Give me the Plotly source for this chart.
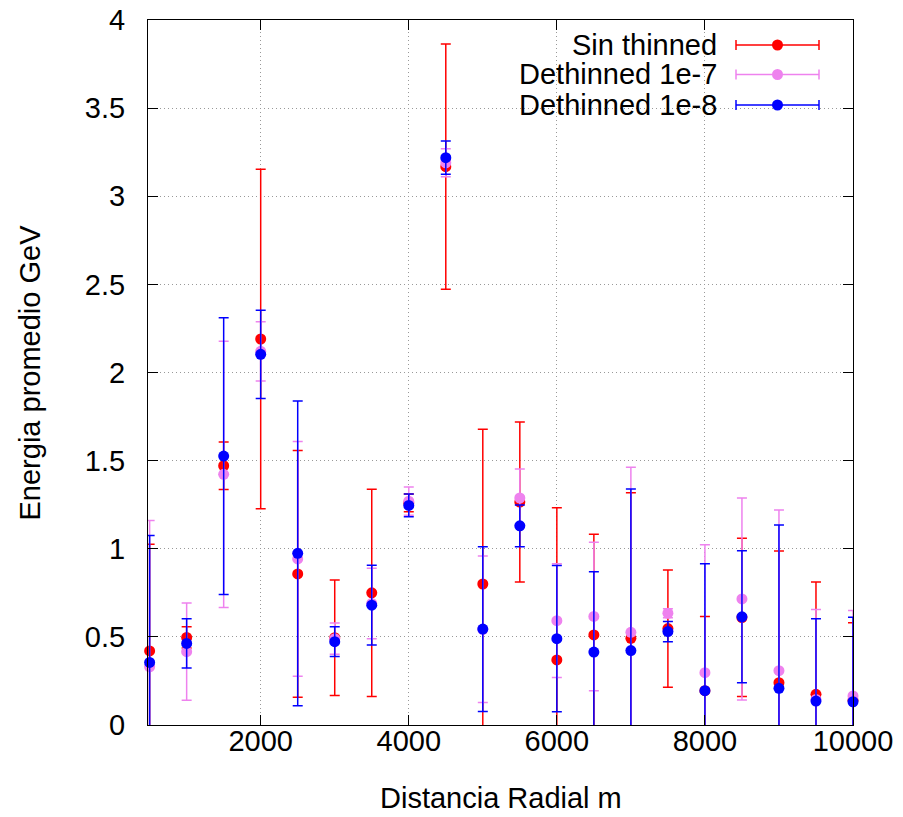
import plotly.graph_objects as go

# Radial distance bins (m)
distancia = [500, 1000, 1500, 2000, 2500, 3000, 3500, 4000, 4500, 5000,
             5500, 6000, 6500, 7000, 7500, 8000, 8500, 9000, 9500, 10000]

# Mean energy (GeV) and its error for each simulation
sin_thinned = [0.42, 0.497, 1.471, 2.19, 0.857, 0.495, 0.75, 1.26, 3.168, 0.80,
               1.265, 0.369, 0.511, 0.492, 0.547, 0.195, 0.61, 0.24, 0.174, 0.14]
sin_thinned_err = [0.605, 0.06, 0.135, 0.963, 0.70, 0.327, 0.588, 0.05, 0.696, 0.878,
                   0.454, 0.864, 0.571, 0.826, 0.333, 0.42, 0.449, 0.747, 0.637, 0.44]

deth_1e7 = [0.33, 0.416, 1.422, 2.12, 0.942, 0.49, 0.69, 1.27, 3.19, 0.543,
            1.288, 0.592, 0.616, 0.526, 0.634, 0.297, 0.715, 0.308, 0.145, 0.165]
deth_1e7_err = [0.83, 0.276, 0.755, 0.168, 0.666, 0.089, 0.2, 0.08, 0.08, 0.416,
                0.164, 0.323, 0.421, 0.936, 0.026, 0.726, 0.573, 0.912, 0.51, 0.484]

deth_1e8 = [0.355, 0.463, 1.526, 2.103, 0.974, 0.473, 0.68, 1.246, 3.219, 0.544,
            1.13, 0.49, 0.414, 0.422, 0.53, 0.195, 0.614, 0.208, 0.136, 0.132]
deth_1e8_err = [0.72, 0.14, 0.785, 0.25, 0.865, 0.085, 0.226, 0.065, 0.094, 0.468,
                0.118, 0.415, 0.456, 0.917, 0.057, 0.72, 0.374, 0.927, 0.467, 0.479]

series_names = ["Sin thinned", "Dethinned 1e-7", "Dethinned 1e-8"]
series_colors = ["#ff0000", "#ee82ee", "#0000ff"]

x_ticks = [2000, 4000, 6000, 8000, 10000]
x_tick_text = ["2000", "4000", "6000", "8000", "10000"]
y_ticks = [0, 0.5, 1, 1.5, 2, 2.5, 3, 3.5, 4]
y_tick_text = ["0", "0.5", "1", "1.5", "2", "2.5", "3", "3.5", "4"]

FONT = "Liberation Sans, Arial, sans-serif"
FS = 29

fig = go.Figure()

series = [(sin_thinned, sin_thinned_err), (deth_1e7, deth_1e7_err), (deth_1e8, deth_1e8_err)]
for (vals, errs), name, color in zip(series, series_names, series_colors):
    # error bars, clipped to the plot frame
    fig.add_trace(go.Scatter(
        x=distancia, y=vals, mode="markers", name=name, showlegend=False,
        marker=dict(size=1, color="rgba(0,0,0,0)"),
        error_y=dict(type="data", array=errs, symmetric=True, color=color,
                     thickness=1.5, width=5),
        cliponaxis=True, hoverinfo="skip",
    ))
    # points drawn on top of their own bars
    fig.add_trace(go.Scatter(
        x=distancia, y=vals, mode="markers", name=name, showlegend=False,
        marker=dict(size=11, color=color),
        cliponaxis=False,
    ))

# plot frame in pixels: x 148..853, y 20..725
def px_x(p):
    return (p - 148) / 705.0

def px_y(p):
    return (725 - p) / 705.0

shapes = []
annotations = []

# key box
shapes.append(dict(type="rect", xref="paper", yref="paper", layer="between",
                   x0=px_x(465), x1=px_x(836), y0=px_y(117), y1=px_y(21),
                   fillcolor="white", line=dict(width=0)))

row_y = [45, 74.5, 105]
for name, color, ry in zip(series_names, series_colors, row_y):
    yc = px_y(ry)
    annotations.append(dict(text=name, xref="paper", yref="paper",
                            x=px_x(719), y=yc, xanchor="right", yanchor="middle",
                            showarrow=False, font=dict(family=FONT, size=FS, color="black")))
    shapes.append(dict(type="line", xref="paper", yref="paper", layer="above",
                       x0=px_x(736), x1=px_x(819), y0=yc, y1=yc,
                       line=dict(color=color, width=1.5)))
    for cx in (736, 819):
        shapes.append(dict(type="line", xref="paper", yref="paper", layer="above",
                           x0=px_x(cx), x1=px_x(cx), y0=px_y(ry - 5), y1=px_y(ry + 5),
                           line=dict(color=color, width=1.5)))
    shapes.append(dict(type="circle", xref="paper", yref="paper", layer="above",
                       xsizemode="pixel", ysizemode="pixel",
                       xanchor=px_x(777.5), yanchor=yc,
                       x0=-5.5, x1=5.5, y0=-5.5, y1=5.5,
                       fillcolor=color, line=dict(width=0)))

# axis titles
annotations.append(dict(text="Distancia Radial m", xref="paper", yref="paper",
                        x=0.5, y=px_y(798), xanchor="center", yanchor="middle",
                        showarrow=False, font=dict(family=FONT, size=FS, color="black")))
annotations.append(dict(text="Energia promedio GeV", xref="paper", yref="paper",
                        x=px_x(29), y=0.5, xanchor="center", yanchor="middle",
                        textangle=-90, showarrow=False,
                        font=dict(family=FONT, size=FS, color="black")))

axis_common = dict(
    showline=True, linecolor="black", linewidth=1, mirror="ticks",
    ticks="inside", ticklen=10, tickwidth=1, tickcolor="black",
    showgrid=True, gridcolor="#999999", griddash="1px,3px", gridwidth=1,
    zeroline=False, automargin=False,
    tickfont=dict(family=FONT, size=FS, color="black"),
)

fig.update_layout(
    width=903, height=817,
    margin=dict(l=148, r=50, t=20, b=92),
    paper_bgcolor="white", plot_bgcolor="white",
    showlegend=False,
    xaxis=dict(range=[478, 10000], tickvals=x_ticks, ticktext=x_tick_text,
               ticklabelstandoff=-10, **axis_common),
    yaxis=dict(range=[0, 4], tickvals=y_ticks, ticktext=y_tick_text,
               ticklabelstandoff=16, **axis_common),
    shapes=shapes, annotations=annotations,
    font=dict(family=FONT, size=FS),
)

fig.write_html("out.html")
